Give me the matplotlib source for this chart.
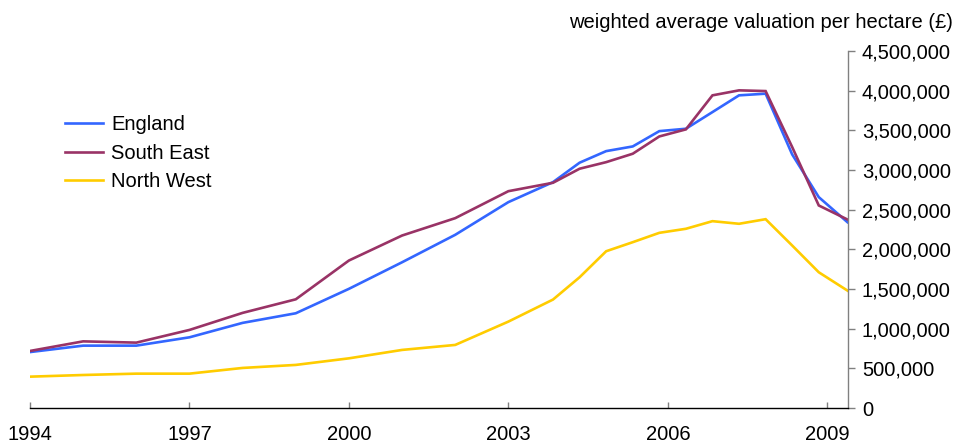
import matplotlib
matplotlib.use("Agg")
import matplotlib.pyplot as plt
from matplotlib.ticker import FuncFormatter

plt.rcParams['font.family'] = ['Liberation Sans', 'DejaVu Sans']

# decimal-year positions of the observations
years = [1994, 1995, 1996, 1997, 1998, 1999, 2000, 2001, 2002, 2003,
         2003.84, 2004.34, 2004.84, 2005.34, 2005.84, 2006.34,
         2006.84, 2007.34, 2007.84, 2008.34, 2008.84, 2009.38]

england = [705000, 786000, 786000, 891000, 1073000, 1194000, 1502000, 1837000,
           2183000, 2595000, 2847000, 3092000, 3238000, 3297000, 3490000, 3520000,
           3730000, 3941000, 3962000, 3196000, 2658000, 2342000]
south_east = [719000, 840000, 824000, 984000, 1199000, 1370000, 1859000, 2174000,
              2393000, 2733000, 2839000, 3016000, 3099000, 3205000, 3423000, 3512000,
              3941000, 4004000, 3995000, 3289000, 2553000, 2376000]
north_west = [395000, 416000, 433000, 433000, 505000, 543000, 626000, 732000,
              795000, 1089000, 1367000, 1648000, 1976000, 2090000, 2208000, 2259000,
              2355000, 2322000, 2380000, 2048000, 1711000, 1480000]

series_names = ["England", "South East", "North West"]
x_ticks = [1994, 1997, 2000, 2003, 2006, 2009]
y_ticks = [0, 500000, 1000000, 1500000, 2000000, 2500000, 3000000, 3500000, 4000000, 4500000]
title = "weighted average valuation per hectare (£)"

colors = ["#3366FF", "#993366", "#FFCC00"]
FS = 14.5

fig = plt.figure(figsize=(9.55, 4.43), dpi=100)
W, H = 955, 443
ax = fig.add_axes([30 / W, (H - 408) / H, (848 - 30) / W, (408 - 51) / H])

for vals, name, c in zip([england, south_east, north_west], series_names, colors):
    ax.plot(years, vals, color=c, lw=1.9, label=name, solid_joinstyle='miter')

ax.set_xlim(1994, 2009.39)
ax.set_ylim(0, 4500000)
ax.set_xticks(x_ticks)
ax.set_xticklabels([str(t) for t in x_ticks])
ax.set_yticks(y_ticks)
ax.yaxis.set_major_formatter(FuncFormatter(lambda v, p: f"{int(v):,}"))
ax.yaxis.tick_right()

for s in ["left", "top"]:
    ax.spines[s].set_visible(False)
ax.spines["right"].set_color("#808080")
ax.spines["bottom"].set_color("#000000")
ax.spines["right"].set_linewidth(1.0)
ax.spines["bottom"].set_linewidth(1.0)

ax.tick_params(axis="y", direction="out", length=5, width=1, color="#808080",
               labelsize=FS, pad=5, labelcolor="#000000")
ax.tick_params(axis="x", direction="in", length=4, width=1, color="#808080",
               labelsize=FS, pad=12, labelcolor="#000000")

fig.text(953 / W, 1 - 22 / H, title, ha="right", va="center", fontsize=FS)

leg = ax.legend(loc="upper left", bbox_to_anchor=(0.033, 0.843), frameon=False,
                fontsize=FS, handlelength=1.9, handletextpad=0.4, labelspacing=0.47,
                borderaxespad=0.0)

fig.savefig("out.png", dpi=100)
